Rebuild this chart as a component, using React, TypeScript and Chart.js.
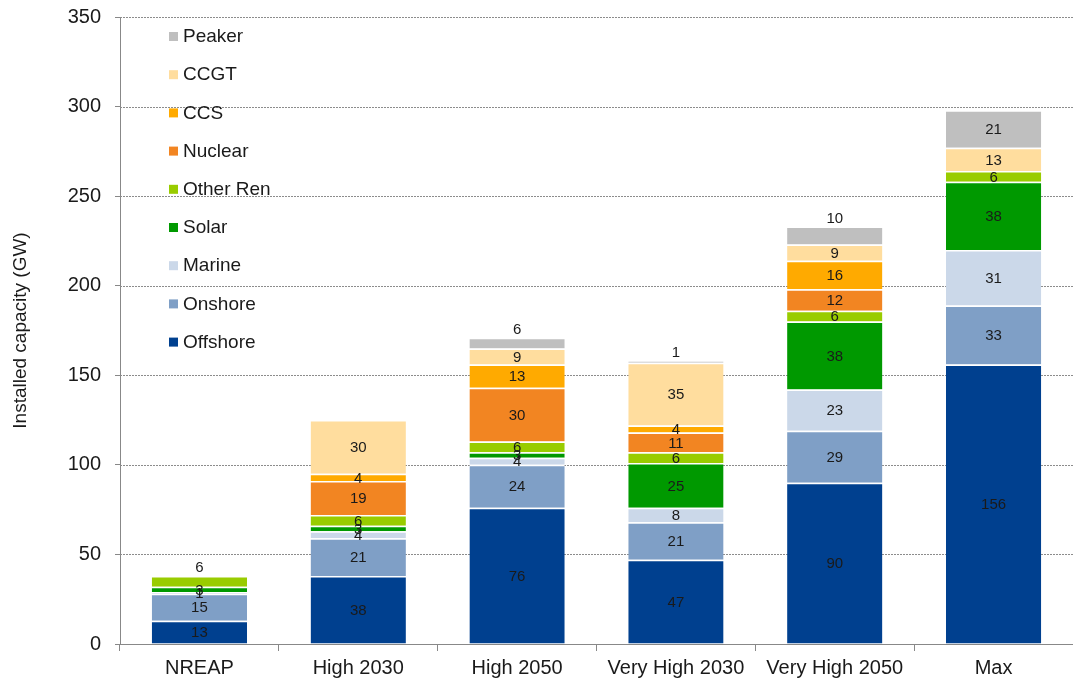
import React, { useEffect, useRef } from "react";
import { Chart, registerables } from "chart.js";

Chart.register(...registerables);

const categories = ["NREAP", "High 2030", "High 2050", "Very High 2030", "Very High 2050", "Max"];

const offshore = [13, 38, 76, 47, 90, 156];
const onshore = [15, 21, 24, 21, 29, 33];
const marine = [1, 4, 4, 8, 23, 31];
const solar = [3, 3, 3, 25, 38, 38];
const otherRen = [6, 6, 6, 6, 6, 6];
const nuclear = [0, 19, 30, 11, 12, 0];
const ccs = [0, 4, 13, 4, 16, 0];
const ccgt = [0, 30, 9, 35, 9, 13];
const peaker = [0, 0, 6, 1, 10, 21];

const yTicks = [0, 50, 100, 150, 200, 250, 300, 350];

const series = [
  { label: "Offshore", data: offshore, color: "#00408f" },
  { label: "Onshore", data: onshore, color: "#7f9fc6" },
  { label: "Marine", data: marine, color: "#cbd8e9" },
  { label: "Solar", data: solar, color: "#009900" },
  { label: "Other Ren", data: otherRen, color: "#99cc00" },
  { label: "Nuclear", data: nuclear, color: "#f28522" },
  { label: "CCS", data: ccs, color: "#ffaa00" },
  { label: "CCGT", data: ccgt, color: "#ffdd9e" },
  { label: "Peaker", data: peaker, color: "#bfbfbf" },
];

const FONT = "'Liberation Sans', Arial, sans-serif";
const TEXT = "#1a1a1a";
const AXIS = "#888888";

// Dotted horizontal grid lines behind the bars, solid y-axis line on the left.
const dottedGrid = {
  id: "dottedGrid",
  beforeDatasetsDraw(chart: any) {
    const { ctx, chartArea } = chart;
    const y = chart.scales.y;
    ctx.save();
    ctx.strokeStyle = "#8c8c8c";
    ctx.lineWidth = 1;
    ctx.setLineDash([2, 1]);
    yTicks.forEach((v) => {
      if (v === 0) return;
      const py = Math.round(y.getPixelForValue(v)) + 0.5;
      ctx.beginPath();
      ctx.moveTo(chartArea.left, py);
      ctx.lineTo(chartArea.right, py);
      ctx.stroke();
    });
    ctx.restore();
  },
};

// Value labels: centred in each segment; a small top segment gets its label just above the bar.
const segmentLabels = {
  id: "segmentLabels",
  afterDatasetsDraw(chart: any) {
    const ctx = chart.ctx;
    ctx.save();
    ctx.font = `15px ${FONT}`;
    ctx.fillStyle = TEXT;
    ctx.textAlign = "center";
    ctx.textBaseline = "middle";
    const n = chart.data.datasets.length;
    chart.data.labels.forEach((_: any, i: number) => {
      let top = -1;
      for (let d = n - 1; d >= 0; d--) {
        if (chart.data.datasets[d].data[i] > 0) { top = d; break; }
      }
      for (let d = 0; d < n; d++) {
        const v = chart.data.datasets[d].data[i];
        if (!(v > 0)) continue;
        const el = chart.getDatasetMeta(d).data[i];
        let y = (el.y + el.base) / 2;
        if (d === top && v <= 10) y = el.y - 9;
        ctx.fillText(String(v), el.x, y + 1);
      }
    });
    ctx.restore();
  },
};

// Legend drawn inside the plot area, top-left, in reverse stacking order.
const insideLegend = {
  id: "insideLegend",
  afterDraw(chart: any) {
    const ctx = chart.ctx;
    ctx.save();
    ctx.font = `19px ${FONT}`;
    ctx.textAlign = "left";
    ctx.textBaseline = "middle";
    const ds = chart.data.datasets;
    const x0 = chart.chartArea.left + 49;
    const y0 = chart.chartArea.top + 19;
    const step = 38.2;
    for (let k = 0; k < ds.length; k++) {
      const d = ds[ds.length - 1 - k];
      const y = y0 + k * step;
      ctx.fillStyle = d.backgroundColor;
      ctx.fillRect(x0, y - 4, 9, 9);
      ctx.fillStyle = TEXT;
      ctx.fillText(d.label, x0 + 14, y + 1);
    }
    ctx.restore();
  },
};

export default function App() {
  const ref = useRef<HTMLCanvasElement>(null);

  useEffect(() => {
    if (!ref.current) return;
    const chart = new Chart(ref.current, {
      type: "bar",
      data: {
        labels: categories,
        datasets: series.map((s) => ({
          label: s.label,
          data: s.data,
          backgroundColor: s.color,
          borderColor: "#ffffff",
          borderWidth: { top: 1.5, bottom: 0, left: 0, right: 0 },
          borderSkipped: false,
          categoryPercentage: 1,
          barPercentage: 0.6,
        })),
      },
      options: {
        responsive: false,
        animation: false,
        layout: { padding: { top: 17, right: 0, left: 0, bottom: 0 } },
        plugins: {
          legend: { display: false },
          tooltip: { enabled: false },
        },
        scales: {
          x: {
            stacked: true,
            afterFit: (s: any) => { s.height = 40; s.paddingLeft = 0; s.paddingRight = 0; },
            grid: {
              offset: true,
              drawOnChartArea: false,
              color: AXIS,
              tickLength: 7,
            },
            border: { color: AXIS, width: 1 },
            ticks: { color: TEXT, font: { family: FONT, size: 20 }, padding: 5 },
          },
          y: {
            stacked: true,
            min: 0,
            max: 350,
            afterFit: (s: any) => { s.width = 120; s.paddingTop = 0; s.paddingBottom = 0; },
            afterBuildTicks: (s: any) => { s.ticks = yTicks.map((v) => ({ value: v })); },
            grid: {
              drawOnChartArea: false,
              tickColor: AXIS,
              tickLength: 5,
              lineWidth: 1,
            },
            border: { color: AXIS, width: 1 },
            ticks: { color: TEXT, font: { family: FONT, size: 20 }, padding: 14 },
            title: {
              display: true,
              text: "Installed capacity (GW)",
              color: TEXT,
              font: { family: FONT, size: 19 },
              padding: { top: 9, bottom: 12 },
            },
          },
        },
      },
      plugins: [dottedGrid, segmentLabels, insideLegend],
    });
    return () => chart.destroy();
  }, []);

  return (
    <div style={{ position: "fixed", left: 0, top: 0, width: 1073, height: 684, background: "#fff" }}>
      <canvas ref={ref} width={1073} height={684} />
    </div>
  );
}
